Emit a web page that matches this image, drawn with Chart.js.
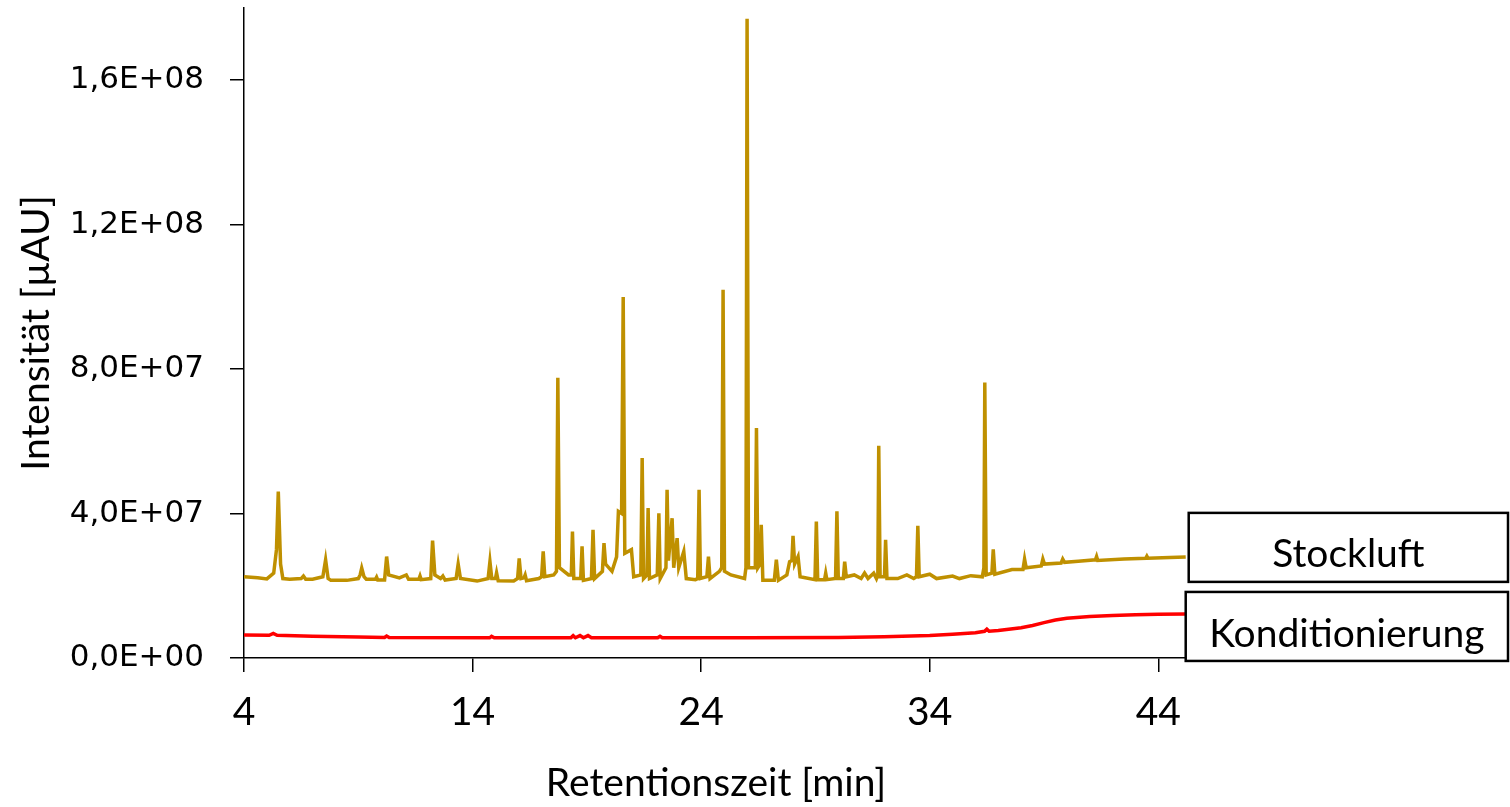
<!DOCTYPE html>
<html>
<head>
<meta charset="utf-8">
<script src="https://cdn.jsdelivr.net/npm/chart.js@4.4.1/dist/chart.umd.min.js"></script>
<style>
  html, body { margin: 0; padding: 0; background: #fff; }
  canvas { display: block; }
</style>
</head>
<body>
<canvas id="chromChart" width="1510" height="807"></canvas>
<script>
// values in units of 1E7 µAU, times in minutes
const UNIT = 1e7;

const seriesNames = ['Stockluft', 'Konditionierung'];
const seriesColors = ['#BF9000', '#FF0000'];

const stockTime = [
  4.0, 4.6, 5.0, 5.3, 5.42, 5.5, 5.6, 5.7, 6.0, 6.5,
  6.6, 6.7, 7.0, 7.45, 7.57, 7.68, 7.8, 8.5, 9.0, 9.08,
  9.15, 9.25, 9.35, 9.75, 9.8, 9.85, 10.15, 10.24, 10.33, 10.8,
  11.1, 11.2, 11.65, 11.7, 11.75, 12.17, 12.25, 12.35, 12.6, 12.7,
  12.8, 13.28, 13.37, 13.47, 14.2, 14.68, 14.76, 14.84, 15.0, 15.05,
  15.12, 15.8, 15.97, 16.04, 16.12, 16.25, 16.3, 16.36, 16.9, 17.02,
  17.09, 17.16, 17.55, 17.67, 17.73, 17.8, 18.2, 18.32, 18.37, 18.43,
  18.73, 18.79, 18.85, 19.2, 19.27, 19.34, 19.68, 19.75, 19.82, 20.1,
  20.3, 20.38, 20.52, 20.59, 20.66, 20.95, 21.05, 21.36, 21.42, 21.48,
  21.63, 21.68, 21.74, 22.08, 22.15, 22.21, 22.46, 22.51, 22.57, 22.73,
  22.8, 22.95, 23.02, 23.24, 23.35, 23.75, 23.85, 23.91, 23.97, 24.25,
  24.32, 24.39, 24.8, 24.9, 24.96, 25.02, 25.3, 25.9, 25.96, 26.01,
  26.07, 26.2, 26.37, 26.42, 26.48, 26.58, 26.63, 26.7, 27.2, 27.29,
  27.38, 27.75, 27.87, 27.97, 28.02, 28.09, 28.24, 28.33, 28.98, 29.04,
  29.1, 29.4, 29.45, 29.5, 29.88, 29.94, 30.0, 30.22, 30.28, 30.35,
  30.7, 31.0, 31.15, 31.3, 31.55, 31.67, 31.73, 31.77, 31.83, 32.02,
  32.07, 32.13, 32.6, 33.0, 33.3, 33.42, 33.48, 33.54, 34.0, 34.3,
  35.0, 35.3, 35.8, 36.3, 36.37, 36.41, 36.47, 36.72, 36.78, 36.85,
  37.6, 38.08, 38.15, 38.22, 38.88, 38.95, 39.02, 39.75, 39.82, 39.9,
  40.5, 41.25, 41.3, 41.35, 42.5, 43.45, 43.5, 43.55, 44.5, 45.2
];
const stockValue = [
  2.25, 2.22, 2.19, 2.35, 3.0, 4.61, 2.6, 2.2, 2.18, 2.2,
  2.27, 2.18, 2.18, 2.25, 2.72, 2.2, 2.15, 2.15, 2.2, 2.3,
  2.49, 2.25, 2.18, 2.18, 2.24, 2.16, 2.16, 2.81, 2.3, 2.22,
  2.3, 2.18, 2.18, 2.27, 2.17, 2.2, 3.25, 2.3, 2.2, 2.27,
  2.16, 2.2, 2.6, 2.2, 2.13, 2.2, 2.67, 2.2, 2.2, 2.36,
  2.14, 2.13, 2.2, 2.76, 2.2, 2.22, 2.3, 2.14, 2.2, 2.25,
  2.95, 2.25, 2.3, 2.4, 7.76, 2.5, 2.3, 2.3, 3.5, 2.2,
  2.2, 3.09, 2.15, 2.2, 3.55, 2.2, 2.4, 3.18, 2.6, 2.4,
  2.8, 4.06, 4.0, 10.0, 2.9, 3.0, 2.25, 2.3, 5.54, 2.2,
  2.3, 4.15, 2.2, 2.3, 4.01, 2.2, 2.5, 4.66, 2.7, 3.87,
  2.5, 3.32, 2.5, 2.95, 2.2, 2.17, 2.2, 4.66, 2.2, 2.25,
  2.81, 2.2, 2.4, 2.5, 10.2, 2.4, 2.3, 2.2, 2.5, 17.7,
  2.5, 2.5, 2.5, 6.37, 2.5, 2.6, 3.69, 2.15, 2.15, 2.72,
  2.15, 2.3, 2.67, 2.7, 3.38, 2.6, 2.81, 2.25, 2.17, 3.78,
  2.17, 2.17, 2.35, 2.17, 2.2, 4.06, 2.2, 2.2, 2.67, 2.25,
  2.3, 2.2, 2.35, 2.2, 2.35, 2.2, 2.3, 5.88, 2.25, 2.25,
  3.27, 2.2, 2.2, 2.3, 2.2, 2.25, 3.66, 2.25, 2.32, 2.2,
  2.27, 2.2, 2.28, 2.25, 2.5, 7.63, 2.3, 2.35, 3.01, 2.32,
  2.45, 2.45, 2.74, 2.5, 2.55, 2.74, 2.6, 2.63, 2.74, 2.65,
  2.68, 2.72, 2.81, 2.7, 2.74, 2.76, 2.82, 2.76, 2.78, 2.8
];

const condTime = [
  4.0, 5.1, 5.28, 5.45, 7.0, 9.0, 10.15, 10.24, 10.35, 14.75,
  14.83, 14.95, 18.3, 18.4, 18.5, 18.7, 18.85, 19.05, 19.2, 22.1,
  22.2, 22.3, 26.0, 30.0, 32.0, 34.0, 35.0, 36.0, 36.4, 36.5,
  36.6, 37.0, 38.0, 38.5, 39.0, 39.5, 40.0, 41.0, 42.0, 43.0,
  44.0, 45.2
];
const condValue = [
  0.64, 0.63, 0.68, 0.63, 0.6, 0.58, 0.57, 0.61, 0.57, 0.56,
  0.6, 0.56, 0.56, 0.62, 0.56, 0.62, 0.56, 0.62, 0.56, 0.56,
  0.6, 0.56, 0.56, 0.57, 0.59, 0.62, 0.66, 0.7, 0.74, 0.8,
  0.74, 0.76, 0.84, 0.9, 0.98, 1.05, 1.1, 1.15, 1.18, 1.2,
  1.21, 1.22
];

const xTickValues = [4, 14, 24, 34, 44];
const yTickValues = [0, 4e7, 8e7, 1.2e8, 1.6e8];

// where the name boxes sit relative to the last point of each line
const boxOffsets = [
  { gap: 3, dy: -44, h: 69, base: 54 },
  { gap: 0, dy: -22, h: 69, base: 55 }
];

const textFont = "Lato, 'Open Sans', sans-serif";

function excelSci(v) {
  if (v === 0) return '0,0E+00';
  const exp = Math.floor(Math.log10(Math.abs(v)) + 1e-9);
  const mant = v / Math.pow(10, exp);
  return mant.toFixed(1).replace('.', ',') + 'E' + (exp < 0 ? '-' : '+') + String(Math.abs(exp)).padStart(2, '0');
}

function toPoints(times, values) {
  return times.map((t, i) => ({ x: t, y: values[i] * UNIT }));
}

const labelBoxes = {
  id: 'labelBoxes',
  afterDatasetsDraw(chart) {
    const ctx = chart.ctx;
    ctx.save();
    chart.data.datasets.forEach((ds, i) => {
      const meta = chart.getDatasetMeta(i);
      const last = meta.data[meta.data.length - 1];
      const b = boxOffsets[i];
      const left = last.x + b.gap;
      const top = last.y + b.dy;
      const right = chart.width - 2;
      ctx.fillStyle = '#fff';
      ctx.fillRect(left, top, right - left, b.h);
      ctx.strokeStyle = '#000';
      ctx.lineWidth = 2.5;
      ctx.strokeRect(left, top, right - left, b.h);
      ctx.fillStyle = '#000';
      ctx.font = '39px ' + textFont;
      ctx.textAlign = 'center';
      ctx.textBaseline = 'alphabetic';
      ctx.fillText(ds.label, (left + right) / 2, top + b.base);
    });
    ctx.restore();
  }
};

new Chart(document.getElementById('chromChart'), {
  type: 'line',
  data: {
    datasets: [
      {
        label: seriesNames[0],
        data: toPoints(stockTime, stockValue),
        borderColor: seriesColors[0],
        borderWidth: 3.5,
        pointRadius: 0,
        tension: 0,
        fill: false
      },
      {
        label: seriesNames[1],
        data: toPoints(condTime, condValue),
        borderColor: seriesColors[1],
        borderWidth: 3.5,
        pointRadius: 0,
        tension: 0,
        fill: false
      }
    ]
  },
  options: {
    responsive: false,
    animation: false,
    devicePixelRatio: 1,
    layout: { padding: { top: 8, right: 322, left: 0, bottom: 0 } },
    plugins: {
      legend: { display: false },
      tooltip: { enabled: false }
    },
    scales: {
      x: {
        type: 'linear',
        min: 4,
        max: 45.3,
        afterBuildTicks: (scale) => { scale.ticks = xTickValues.map(v => ({ value: v })); },
        afterFit: (scale) => {
          scale.height = 149;
          scale.paddingLeft = 0;
          scale.paddingRight = 0;
        },
        grid: { drawOnChartArea: false, drawTicks: true, tickLength: 14, color: '#000', lineWidth: 1.5 },
        border: { color: '#000', width: 1.5 },
        ticks: {
          color: '#000',
          padding: 17,
          maxRotation: 0,
          font: { family: textFont, size: 39 }
        },
        title: {
          display: true,
          text: 'Retentionszeit [min]',
          color: '#000',
          padding: { top: 0, bottom: 0 },
          font: { family: textFont, size: 39 }
        }
      },
      y: {
        type: 'linear',
        min: 0,
        max: 1.8e8,
        afterBuildTicks: (scale) => { scale.ticks = yTickValues.map(v => ({ value: v })); },
        afterFit: (scale) => {
          scale.width = 244;
          scale.paddingTop = 0;
          scale.paddingBottom = 0;
        },
        grid: { drawOnChartArea: false, drawTicks: true, tickLength: 14, color: '#000', lineWidth: 1.5 },
        border: { color: '#000', width: 1.5 },
        ticks: {
          color: '#000',
          padding: 26,
          callback: (v) => excelSci(v),
          font: { family: 'DejaVu Sans', size: 31 }
        },
        title: {
          display: true,
          text: 'Intensität [µAU]',
          color: '#000',
          padding: { top: 13, bottom: 0 },
          font: { family: textFont, size: 39 }
        }
      }
    }
  },
  plugins: [labelBoxes]
});
</script>
</body>
</html>
